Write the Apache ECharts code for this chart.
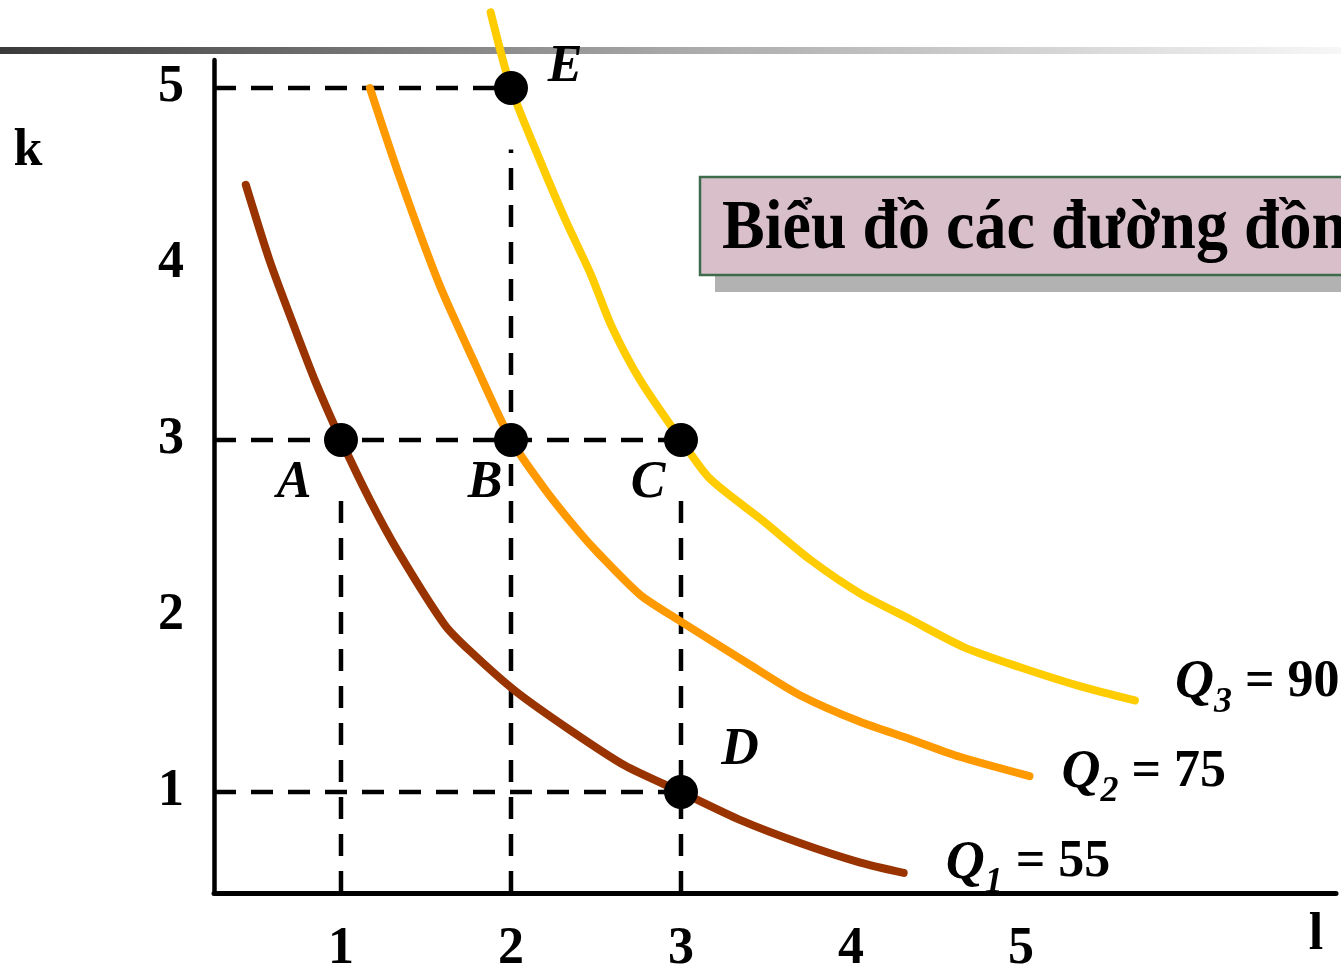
<!DOCTYPE html>
<html>
<head>
<meta charset="utf-8">
<script src="https://cdn.jsdelivr.net/npm/echarts@6/dist/echarts.min.js"></script>
<style>
html,body{margin:0;padding:0;background:#fff;}
#chart{width:1341px;height:967px;}
</style>
</head>
<body>
<div id="chart"></div>
<script>
// ---- data ----
const xTicks = [1, 2, 3, 4, 5];
const yTicks = [1, 2, 3, 4, 5];
const xName = 'l';
const yName = 'k';
const titleText = 'Biểu đồ các đường đồng lượng';

const q1L = [0.44, 0.58, 0.73, 0.85, 1.0, 1.17, 1.34, 1.61, 1.76, 2.03, 2.35, 2.67, 3.0, 3.35, 3.70, 4.05, 4.31];
const q1K = [4.45, 4.02, 3.63, 3.33, 3.0, 2.66, 2.36, 1.95, 1.80, 1.57, 1.35, 1.15, 1.0, 0.84, 0.71, 0.60, 0.54];
const q2L = [1.17, 1.35, 1.58, 1.79, 2.0, 2.2, 2.39, 2.52, 2.76, 2.98, 3.41, 3.70, 4.05, 4.35, 4.64, 5.05];
const q2K = [5.0, 4.48, 3.88, 3.43, 3.0, 2.72, 2.49, 2.35, 2.12, 1.98, 1.72, 1.55, 1.40, 1.30, 1.20, 1.09];
const q3L = [1.88, 2.0, 2.17, 2.32, 2.47, 2.59, 2.76, 3.0, 3.17, 3.47, 3.76, 4.05, 4.35, 4.67, 4.99, 5.35, 5.67];
const q3K = [5.43, 5.0, 4.59, 4.25, 3.94, 3.65, 3.34, 3.0, 2.78, 2.55, 2.32, 2.13, 1.98, 1.82, 1.71, 1.60, 1.52];
const curveIndex = ['1', '2', '3'];
const curveOutput = [55, 75, 90];

const pointNames = ['A', 'B', 'C', 'D', 'E'];
const pointL = [1, 2, 3, 3, 2];
const pointK = [3, 3, 3, 1, 5];

const hGuideK = [5, 3, 1];
const hGuideTo = [2, 3, 3];
const vGuideL = [1, 2, 3];
const vGuideTo = [2.72, 4.65, 2.73];

// ---- layout / style ----
const X_MIN = 0.253, X_MAX = 6.853, Y_MIN = 0.426, Y_MAX = 5.159;
const SERIF = '"Liberation Serif", "DejaVu Serif", serif';
const curveColors = ['#993300', '#FF9900', '#FFCC00'];
const labelOffsets = { A: [-47, 44], B: [-26, 44], C: [-33, 44], D: [59, -41], E: [54, -20] };
const endOffsets = [[34, -10], [24, -4], [32, -18]];

const zip = (a, b) => a.map((v, i) => [v, b[i]]);
const curves = [zip(q1L, q1K), zip(q2L, q2K), zip(q3L, q3K)];

const dashStyle = { color: '#000', width: 4.5, type: [22, 15] };
const series = [];
hGuideK.forEach((k, i) => {
  series.push({ type: 'line', data: [[X_MIN, k], [hGuideTo[i], k]], symbol: 'none', silent: true, z: 1, lineStyle: dashStyle });
});
vGuideL.forEach((l, i) => {
  series.push({ type: 'line', data: [[l, Y_MIN], [l, vGuideTo[i]]], symbol: 'none', silent: true, z: 1, lineStyle: dashStyle });
});
curves.forEach((d, i) => {
  series.push({
    type: 'line', data: d, symbol: 'none', smooth: 0.25, clip: false, silent: true, z: 2,
    lineStyle: { color: curveColors[i], width: 8, cap: 'round', join: 'round' },
    endLabel: {
      show: true, offset: endOffsets[i],
      formatter: '{q|Q}{s|' + curveIndex[i] + '}{t| = ' + curveOutput[i] + '}',
      rich: {
        q: { fontFamily: SERIF, fontStyle: 'italic', fontWeight: 'bold', fontSize: 54, lineHeight: 52, color: '#000', verticalAlign: 'top' },
        s: { fontFamily: SERIF, fontStyle: 'italic', fontWeight: 'bold', fontSize: 36, lineHeight: 36, color: '#000', verticalAlign: 'top', padding: [28, 0, 0, 0] },
        t: { fontFamily: SERIF, fontWeight: 'bold', fontSize: 52, lineHeight: 52, color: '#000', verticalAlign: 'top' }
      }
    }
  });
});
series.push({
  type: 'scatter', z: 5, symbol: 'circle', symbolSize: 34, silent: true,
  itemStyle: { color: '#000', opacity: 1 },
  data: pointNames.map((n, i) => ({
    name: n, value: [pointL[i], pointK[i]],
    label: { show: true, position: 'inside', offset: labelOffsets[n], formatter: n,
      fontFamily: SERIF, fontStyle: 'italic', fontWeight: 'bold', fontSize: 52, color: '#000', opacity: 1 }
  }))
});

const chart = echarts.init(document.getElementById('chart'), null, { renderer: 'canvas' });
chart.setOption({
  animation: false,
  backgroundColor: '#fff',
  grid: { left: 214, right: 5, top: 60, bottom: 74, containLabel: false, outerBoundsMode: 'none' },
  xAxis: {
    type: 'value', min: X_MIN, max: X_MAX,
    axisLine: { show: true, onZero: false, lineStyle: { color: '#000', width: 5 } },
    axisTick: { show: false }, splitLine: { show: false },
    axisLabel: { customValues: xTicks, margin: 31, fontFamily: SERIF, fontWeight: 'bold', fontSize: 52, color: '#000' }
  },
  yAxis: {
    type: 'value', min: Y_MIN, max: Y_MAX,
    axisLine: { show: true, onZero: false, lineStyle: { color: '#000', width: 4.5 } },
    axisTick: { show: false }, splitLine: { show: false },
    axisLabel: { customValues: yTicks, margin: 30, fontFamily: SERIF, fontWeight: 'bold', fontSize: 52, color: '#000' }
  },
  graphic: [
    { type: 'rect', z: 0, shape: { x: 0, y: 47, width: 1341, height: 7 },
      style: { fill: new echarts.graphic.LinearGradient(0, 0, 1, 0, [
        { offset: 0, color: '#3a3a3a' }, { offset: 0.5, color: '#a8a8a8' }, { offset: 1, color: '#f7f7f7' }]) } },
    { type: 'rect', z: 10, shape: { x: 715, y: 192, width: 700, height: 100 }, style: { fill: '#b2b2b2' } },
    { type: 'rect', z: 11, shape: { x: 700, y: 177, width: 700, height: 98 }, style: { fill: '#d8bfca', stroke: '#3d6b4b', lineWidth: 2.5 } },
    { type: 'text', z: 12, x: 722, y: 230, scaleY: 1.08,
      style: { text: titleText, x: 0, y: 0, font: 'bold 64px ' + SERIF, fill: '#000', textVerticalAlign: 'middle' } },
    { type: 'text', z: 12, style: { text: yName, x: 28, y: 152, font: 'bold 52px ' + SERIF, fill: '#000', textAlign: 'center', textVerticalAlign: 'middle' } },
    { type: 'text', z: 12, style: { text: xName, x: 1316, y: 936, font: 'bold 52px ' + SERIF, fill: '#000', textAlign: 'center', textVerticalAlign: 'middle' } }
  ],
  series: series
});
</script>
</body>
</html>
